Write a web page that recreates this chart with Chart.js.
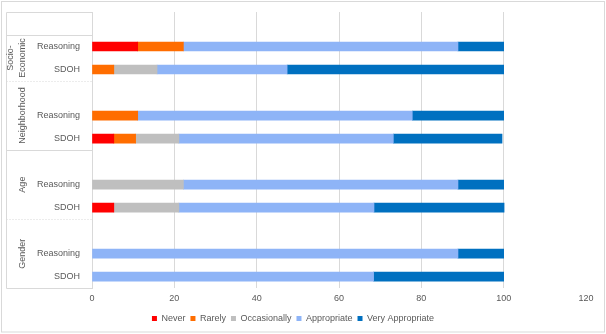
<!DOCTYPE html>
<html>
<head>
<meta charset="utf-8">
<script src="https://cdn.jsdelivr.net/npm/chart.js@4/dist/chart.umd.min.js"></script>
<style>
  html, body { margin: 0; padding: 0; background: #fff; }
  #wrap { width: 606px; height: 334px; position: relative; }
</style>
</head>
<body>
<div id="wrap"><canvas id="c" width="606" height="334"></canvas></div>
<script>
// ---- data ----
const categories = ['', 'Reasoning', 'SDOH', '', 'Reasoning', 'SDOH', '', 'Reasoning', 'SDOH', '', 'Reasoning', 'SDOH'];
const groupLabels = [['Socio-', 'Economic'], ['Neighborhood'], ['Age'], ['Gender']];
const seriesNames = ['Never', 'Rarely', 'Occasionally', 'Appropriate', 'Very Appropriate'];
const never           = [null, 11.1, null, null, null, 5.3,  null, null, 5.3,  null, null, null];
const rarely          = [null, 11.1, 5.3,  null, 11.1, 5.3,  null, null, null, null, null, null];
const occasionally    = [null, null, 10.5, null, null, 10.5, null, 22.2, 15.8, null, null, null];
const appropriate     = [null, 66.7, 31.6, null, 66.7, 52.1, null, 66.7, 47.4, null, 88.9, 68.4];
const veryAppropriate = [null, 11.1, 52.6, null, 22.2, 26.4, null, 11.1, 31.6, null, 11.1, 31.6];
const xTicks = [0, 20, 40, 60, 80, 100, 120];

// ---- style ----
const colors = ['#FF0000', '#FF6D00', '#BFBFBF', '#8EB4F7', '#0070C0'];
const textColor = '#595959';
const lineColor = '#D9D9D9';
const FONT = 'Liberation Sans, Arial, sans-serif';

const seriesData = [never, rarely, occasionally, appropriate, veryAppropriate];

// group label anchors (row index for centre)
const groupCentres = [1.5, 4, 7, 10];

const decor = {
  id: 'decor',
  beforeDraw(chart) {
    const ctx = chart.ctx;
    ctx.save();
    ctx.strokeStyle = lineColor;
    ctx.lineWidth = 1;
    ctx.strokeRect(1.5, 1.5, 603, 330.5);
    ctx.restore();
  },
  afterDraw(chart) {
    const ctx = chart.ctx;
    const ys = chart.scales.y;
    const area = chart.chartArea;
    const L = 6.5, R = Math.round(area.left) + 0.5;
    const step = (ys.getPixelForValue(1) - ys.getPixelForValue(0));
    const edge = i => Math.round(ys.getPixelForValue(i) - step / 2) + 0.5;
    ctx.save();
    ctx.strokeStyle = lineColor;
    ctx.lineWidth = 1;
    const hline = (y, dash) => {
      ctx.setLineDash(dash || []);
      ctx.beginPath(); ctx.moveTo(L, y); ctx.lineTo(R, y); ctx.stroke();
    };
    hline(edge(0));
    hline(edge(1));
    hline(edge(3), [1, 2]);
    hline(edge(6));
    hline(edge(9), [1, 2]);
    hline(edge(12));
    ctx.setLineDash([]);
    ctx.beginPath(); ctx.moveTo(L, edge(0)); ctx.lineTo(L, edge(12)); ctx.stroke();
    // group labels
    ctx.fillStyle = textColor;
    ctx.font = '9px ' + FONT;
    ctx.textAlign = 'center';
    ctx.textBaseline = 'middle';
    groupLabels.forEach((lines, g) => {
      const cy = ys.getPixelForValue(groupCentres[g]);
      const n = lines.length;
      lines.forEach((t, k) => {
        const cx = 22.5 - (n - 1 - k) * 11.5;
        ctx.save();
        ctx.translate(cx, cy);
        ctx.rotate(-Math.PI / 2);
        ctx.fillText(t, 0, 0);
        ctx.restore();
      });
    });
    ctx.restore();
  }
};

new Chart(document.getElementById('c'), {
  type: 'bar',
  data: {
    labels: categories,
    datasets: seriesNames.map((name, i) => ({
      label: name,
      data: seriesData[i],
      backgroundColor: colors[i],
      borderWidth: 0,
      barThickness: 9
    }))
  },
  options: {
    indexAxis: 'y',
    responsive: false,
    animation: false,
    devicePixelRatio: 1,
    layout: { padding: { left: 0, right: 20, top: 12, bottom: 1 } },
    plugins: {
      legend: {
        position: 'bottom',
        labels: {
          boxWidth: 5, boxHeight: 5, padding: 5,
          color: textColor,
          font: { family: FONT, size: 9 }
        }
      },
      tooltip: { enabled: false }
    },
    scales: {
      x: {
        stacked: true,
        min: 0, max: 120,
        afterBuildTicks(scale) { scale.ticks = xTicks.map(v => ({ value: v })); },
        ticks: { color: textColor, font: { family: FONT, size: 9 }, padding: 5 },
        grid: {
          drawTicks: false,
          color: ctx => (ctx.tick && ctx.tick.value === 120) ? 'rgba(0,0,0,0)' : lineColor
        },
        border: { display: false }
      },
      y: {
        stacked: true,
        afterFit(scale) { scale.width = 92; scale.paddingTop = 0; scale.paddingBottom = 0; },
        ticks: { color: textColor, font: { family: FONT, size: 9 }, padding: 12, autoSkip: false },
        grid: { display: false, drawTicks: false },
        border: { display: true, color: lineColor }
      }
    }
  },
  plugins: [decor]
});
</script>
</body>
</html>
